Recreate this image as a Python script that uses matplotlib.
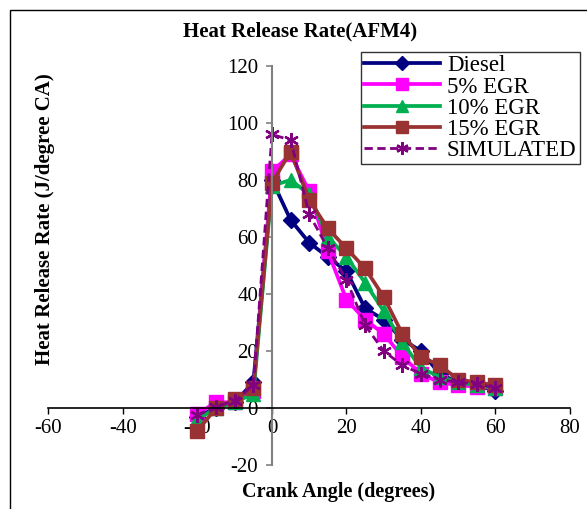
import matplotlib
matplotlib.use("Agg")
import matplotlib.pyplot as plt
from matplotlib.patches import Rectangle

# crank angle (degrees)
crank = [-20, -15, -10, -5, 0, 5, 10, 15, 20, 25, 30, 35, 40, 45, 50, 55, 60]

# heat release rate (J/degree CA)
diesel = [-3, 0, 2, 9, 80, 66, 58, 53, 48, 35, 31, 24, 20, 12, 9, 8, 6]
egr5 = [-2, 2, 2, 6, 83, 89, 76, 55, 38, 31, 26, 18, 12, 9, 8, 7.5, 7]
egr10 = [-4, 0, 2, 5, 78, 80, 75, 60, 53, 44, 34, 23, 14, 11, 9, 8, 7]
egr15 = [-8, 0, 3, 7, 79, 90, 73, 63, 56, 49, 39, 26, 18, 15, 10, 9, 8]
simulated = [-2.5, 0.5, 2.5, 8, 96, 94, 68, 56, 45, 29, 20, 15, 12, 10, 9, 8.5, 7]

plt.rcParams['font.family'] = ['Liberation Serif', 'DejaVu Serif']
plt.rcParams['axes.unicode_minus'] = False

fig = plt.figure(figsize=(5.87, 5.09), dpi=100)
ax = fig.add_axes([0.0826, 0.0864, 0.8884, 0.7839])

ax.plot(crank, diesel, color='#000080', lw=2.7, marker='D', ms=8, label='Diesel')
ax.plot(crank, egr5, color='#FF00FF', lw=2.7, marker='s', ms=9.5, label='5% EGR')
ax.plot(crank, egr10, color='#00B050', lw=2.7, marker='^', ms=9.5, label='10% EGR')
ax.plot(crank, egr15, color='#993333', lw=2.7, marker='s', ms=10, label='15% EGR')
ax.plot(crank, simulated, color='#800080', lw=2, ls=(0, (3, 1.6)),
        marker=(6, 2, 0), ms=10.5, mew=1.7, label='SIMULATED')

ax.set_xlim(-60, 80)
ax.set_ylim(-20, 120)
ax.set_xticks(range(-60, 81, 20))
ax.set_yticks(range(-20, 121, 20))

ax.spines['top'].set_visible(False)
ax.spines['right'].set_visible(False)
ax.spines['left'].set_position(('data', 0))
ax.spines['bottom'].set_position(('data', 0))
ax.spines['left'].set_color('#808080')
ax.spines['left'].set_linewidth(1.5)
ax.spines['bottom'].set_linewidth(1.2)
ax.tick_params(axis='x', direction='out', length=4, width=1, pad=4, labelsize=15)
ax.tick_params(axis='y', direction='out', length=4, width=1.2, color='#808080', pad=6, labelsize=15)
ax.patch.set_visible(False)

leg = ax.legend(loc='upper right', bbox_to_anchor=(580 / 587, 1 - 52 / 509),
                bbox_transform=fig.transFigure, fontsize=16.5, frameon=True,
                fancybox=False, edgecolor='black', handlelength=3.3,
                handletextpad=0.3, labelspacing=0.0, borderpad=0.15,
                borderaxespad=0, markerscale=0.85)
leg.get_frame().set_linewidth(1.0)

fig.text(0.511, 0.939, 'Heat Release Rate(AFM4)', ha='center', va='center',
         fontsize=15, fontweight='bold')
fig.text(0.0767, 0.57, 'Heat Release Rate (J/degree CA)', ha='center', va='center',
         rotation=90, fontsize=15, fontweight='bold')
fig.text(0.576, 0.033, 'Crank Angle (degrees)', ha='center', va='center',
         fontsize=14.5, fontweight='bold')

# chart border (cut at right and bottom like the source)
fig.patches.append(Rectangle((10 / 587, -0.1), 1.2, 0.98 + 0.1, transform=fig.transFigure,
                             fill=False, edgecolor='black', lw=1.0))

plt.savefig('out.png', dpi=100)
